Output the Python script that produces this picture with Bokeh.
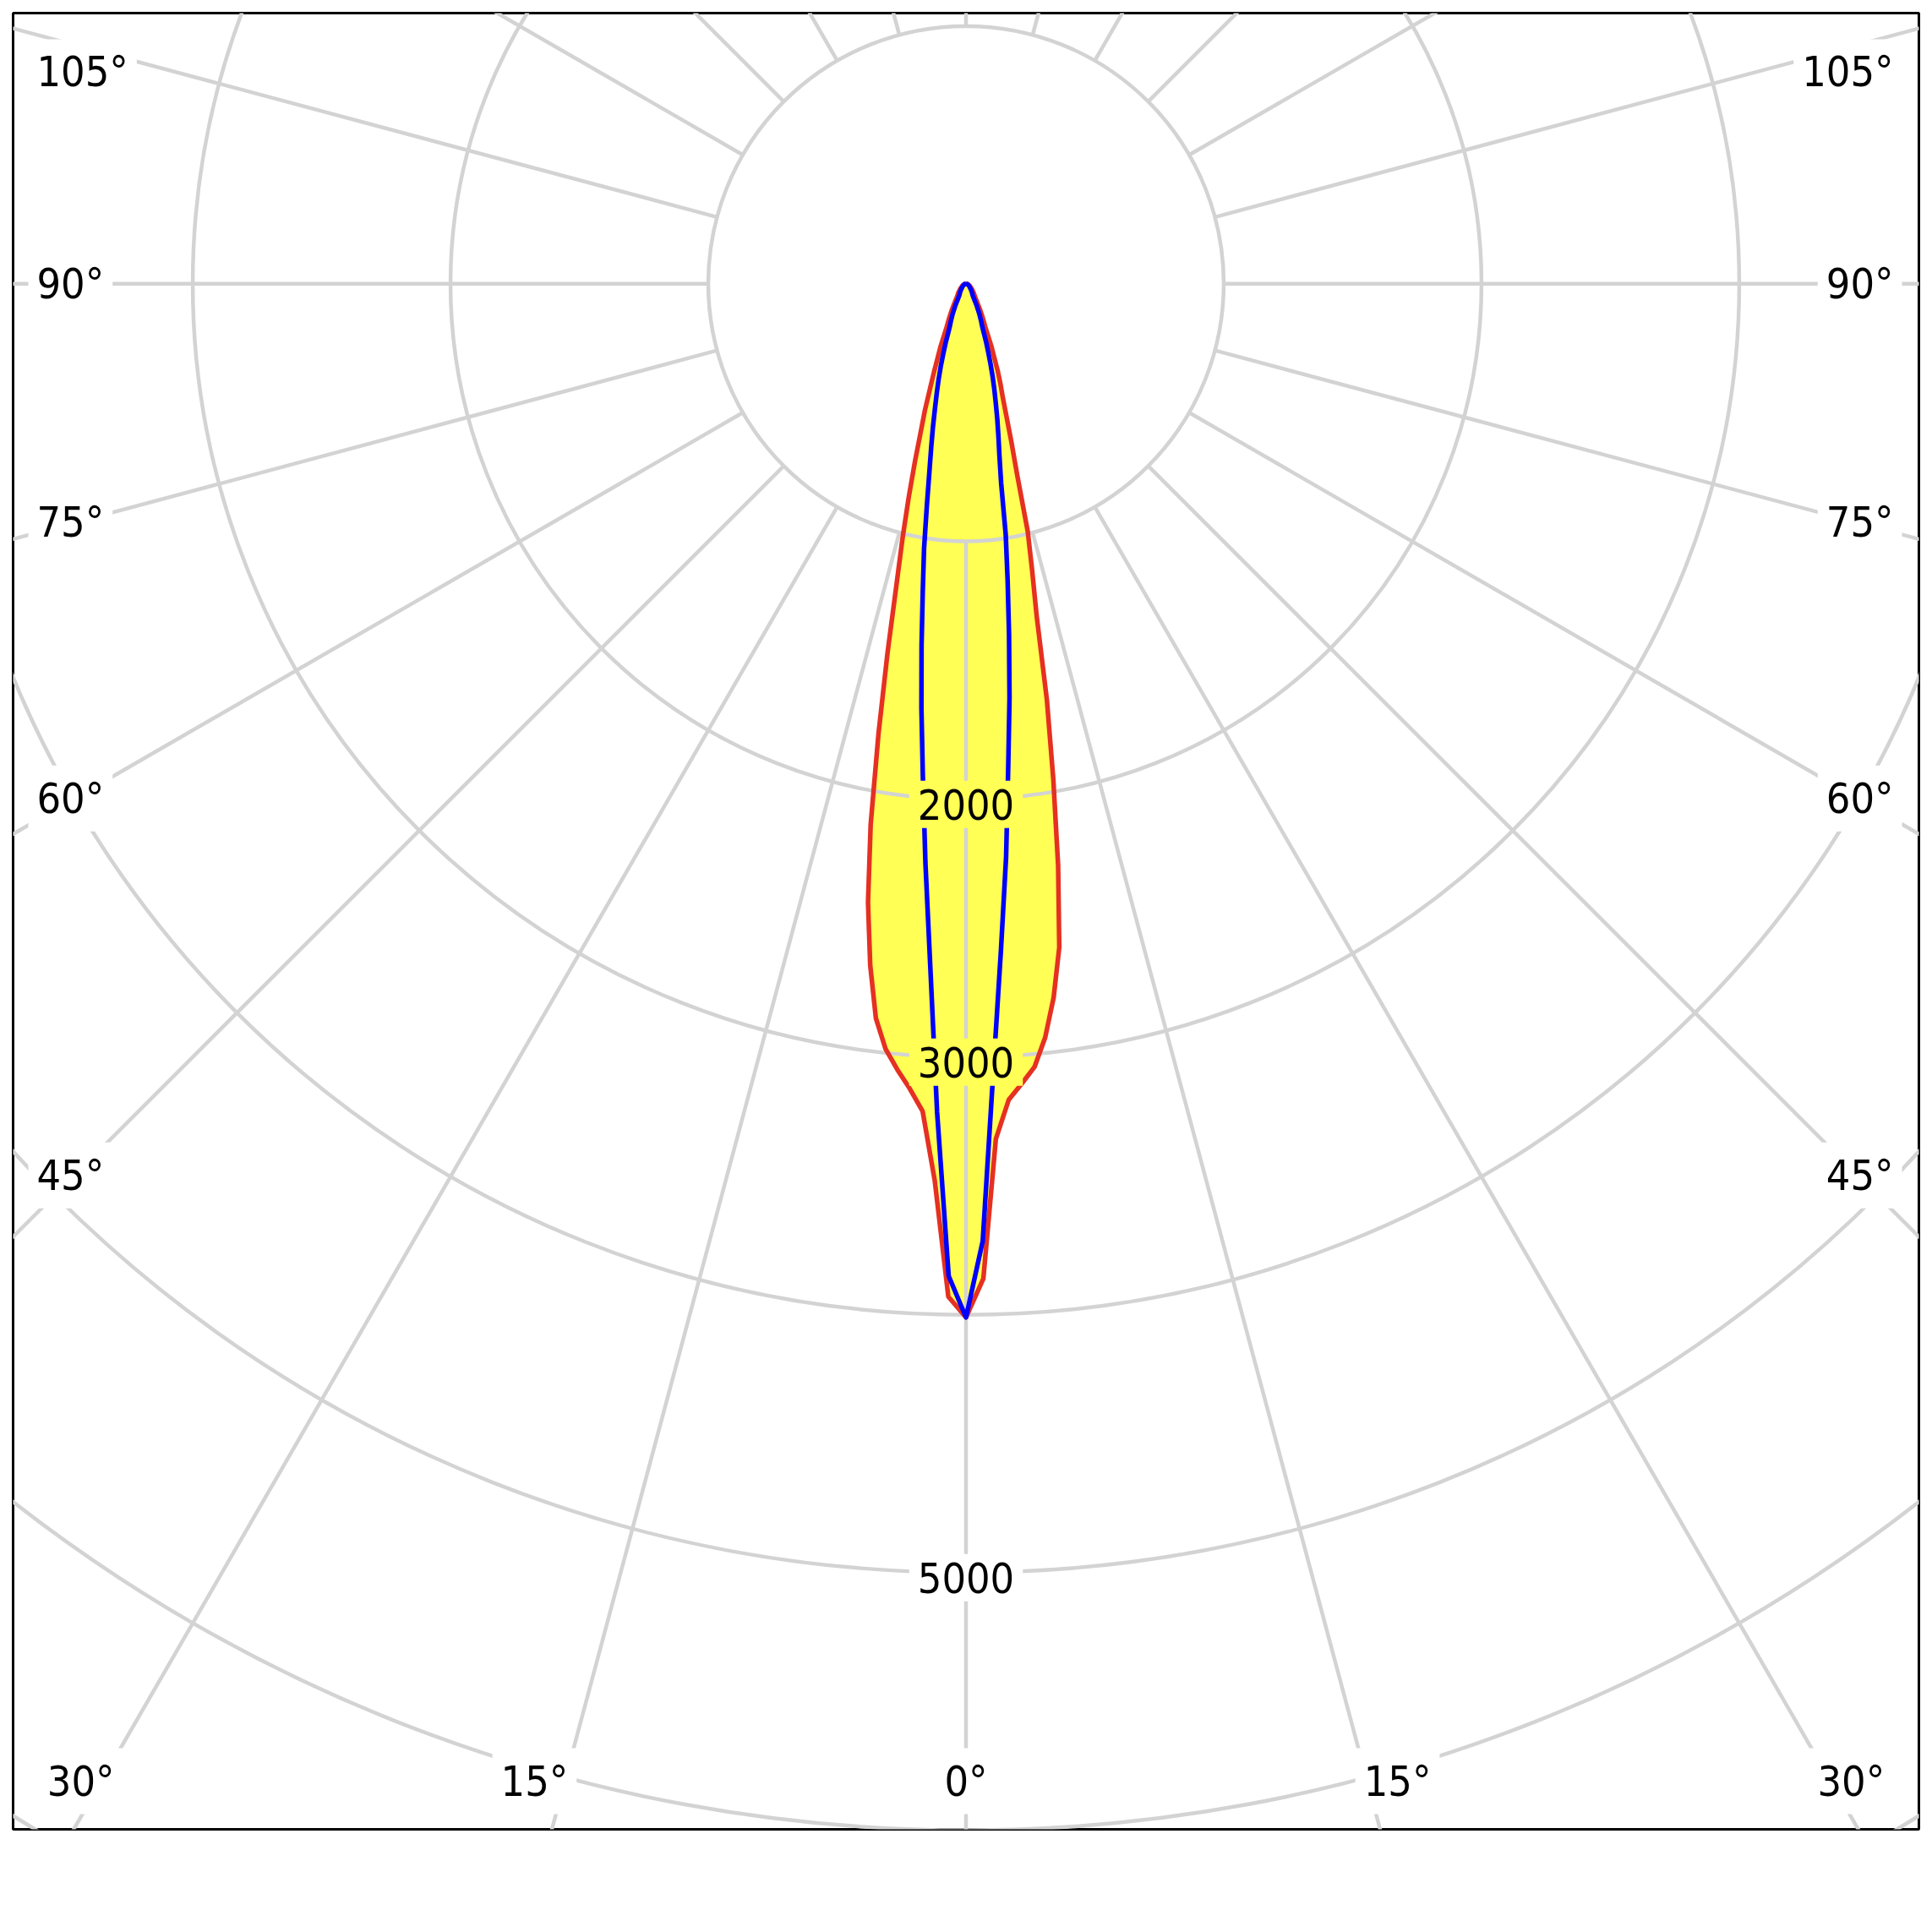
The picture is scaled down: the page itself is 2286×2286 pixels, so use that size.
import numpy as np
from bokeh.plotting import figure
from bokeh.models import Range1d
from bokeh.embed import file_html
from bokeh.resources import INLINE
from bokeh.core.properties import value

# ---------------- data (luminous intensity, cd) ----------------
ANGLES = [0, 1, 2, 3, 4, 5, 6, 7, 8, 9, 10, 11, 12, 13, 14, 15, 16, 17, 18, 19,
          20, 21, 22, 24, 26, 28, 30, 35, 40, 50, 60, 70, 80, 90]
RED_LEFT = [4010, 3930, 3480, 3215, 3130, 3060, 2985, 2870, 2670, 2430, 2130, 1780,
            1465, 1200, 1018, 860, 720, 600, 515, 425, 360, 305, 265, 185, 150, 120,
            95, 60, 47, 28, 17, 10, 5, 0]
RED_RIGHT = [4010, 3860, 3320, 3170, 3110, 3050, 2940, 2790, 2600, 2285, 1950, 1645,
             1320, 1140, 990, 765, 640, 535, 460, 410, 360, 305, 265, 185, 150, 120,
             95, 60, 47, 28, 17, 10, 5, 0]
BLUE_LEFT = [4010, 3850, 3215, 2650, 2255, 1920, 1655, 1415, 1205, 1040, 875, 745,
             650, 570, 497, 438, 385, 335, 285, 243, 200, 173, 157, 126, 95, 66,
             52, 40, 30, 18, 11, 7, 3, 0]
BLUE_RIGHT = [4010, 3715, 3050, 2590, 2230, 1880, 1615, 1370, 1160, 985, 785, 680,
              605, 540, 478, 425, 375, 325, 280, 240, 200, 173, 157, 126, 95, 66,
              52, 40, 30, 18, 11, 7, 3, 0]

RINGS = [1000, 2000, 3000, 4000, 5000, 6000, 7000]
RING_LABELS = [2000, 3000, 5000]
SPOKES = list(range(0, 360, 15))
SIDE_LABELS = [45, 60, 75, 90, 105]
BOTTOM_LABELS = [0, 15, 30]

# ---------------- styling / layout ----------------
PX = 0.305            # pixels per cd
U = 1 / PX            # cd per pixel
X0, X1 = -3697, 3697
Y0, Y1 = -5996, 1050
FILL = "#FFFF55"
RED = "#E53022"
BLUE = "#0000FF"
GRID = "#D3D3D3"
FONT = value("DejaVu Sans Condensed")
FSIZE = "50px"

p = figure(x_range=Range1d(X0, X1), y_range=Range1d(Y0, Y1),
           frame_width=int(round((X1 - X0) * PX)), frame_height=int(round((Y1 - Y0) * PX)),
           min_border_left=15, min_border_top=15, min_border_right=8, min_border_bottom=60,
           x_axis_type=None, y_axis_type=None, toolbar_location=None,
           output_backend="svg", title=None)
p.outline_line_color = "black"
p.outline_line_width = 3
p.background_fill_color = "white"
p.border_fill_color = "white"


def half(vals, side):
    a = np.radians(ANGLES)
    v = np.array(vals, dtype=float)
    return side * v * np.sin(a), -v * np.cos(a)


def curve(left, right):
    lx, ly = half(left, -1)
    rx, ry = half(right, 1)
    xs = np.concatenate([lx[::-1], rx[1:]])
    ys = np.concatenate([ly[::-1], ry[1:]])
    return xs, ys


rxs, rys = curve(RED_LEFT, RED_RIGHT)
bxs, bys = curve(BLUE_LEFT, BLUE_RIGHT)

# fill
p.patch(rxs, rys, fill_color=FILL, line_color=None)

# grid rings
p.circle(x=[0] * len(RINGS), y=[0] * len(RINGS), radius=RINGS,
         fill_color=None, line_color=GRID, line_width=4.5)

# spokes from first ring outward
sx, sy = [], []
for a in SPOKES:
    t = np.radians(a)
    sx.append([RINGS[0] * np.sin(t), 12000 * np.sin(t)])
    sy.append([-RINGS[0] * np.cos(t), -12000 * np.cos(t)])
p.multi_line(sx, sy, line_color=GRID, line_width=4.5)

# curves
p.line(rxs, rys, line_color=RED, line_width=5.5, line_join="round")
p.line(bxs, bys, line_color=BLUE, line_width=5.5, line_join="round")


def label(x, y, txt, align, bg):
    p.text(x=x, y=y, text=txt, text_font=FONT, text_font_size=FSIZE,
           text_color="black", text_align=align, text_baseline="middle",
           background_fill_color=bg, padding=10)


# radial value labels
max0 = min(RED_LEFT[0], RED_RIGHT[0])
for r in RING_LABELS:
    bg = FILL if r < max0 else "white"
    label([0], [-r - 6 * U], [str(r)], "center", bg)

# side angle labels
D = 1055 * U
top_clamp = Y1 - 70 * U
for a in SIDE_LABELS:
    t = np.radians(a)
    y = min(-D * np.cos(t) / np.sin(t), top_clamp)
    label([X0 + 18 * U], [y], [f"{a}°"], "left", "white")
    label([X1 - 20 * U], [y], [f"{a}°"], "right", "white")

# bottom angle labels
yb = Y0 + 57 * U
for a in BOTTOM_LABELS:
    t = np.radians(a)
    xr = np.tan(t) * (-yb) - 14 * U
    if a == 0:
        label([0], [yb], [f"{a}°"], "center", "white")
    else:
        label([max(-xr, X0 + 130 * U)], [yb], [f"{a}°"], "right", "white")
        label([min(xr, X1 - 130 * U)], [yb], [f"{a}°"], "left", "white")

open("out.html", "w").write(file_html(p, INLINE))
